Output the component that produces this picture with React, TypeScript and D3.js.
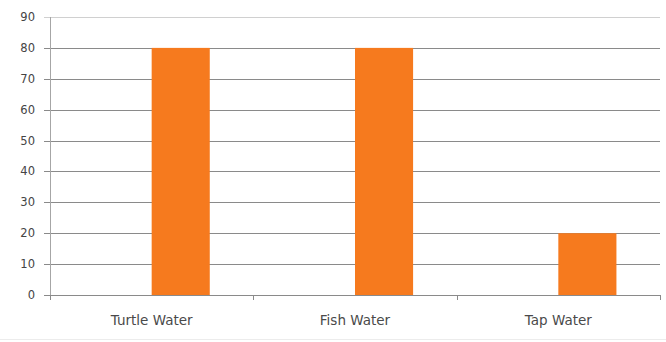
import React, { useEffect, useRef } from 'react';
import * as d3 from 'd3';

// chart data
const categories = ['Turtle Water', 'Fish Water', 'Tap Water'];
const seriesNames = ['Blank', 'Water'];
const blankValues = [0, 0, 0];
const waterValues = [80, 80, 20];
const yTicks = [0, 10, 20, 30, 40, 50, 60, 70, 80, 90];

const W = 666;
const H = 342;

export default function App() {
  const ref = useRef<SVGSVGElement>(null);

  useEffect(() => {
    const svg = d3.select(ref.current);
    svg.selectAll('*').remove();

    const left = 50, right = 660, top = 17, bottom = 295;

    const x = d3.scaleBand<string>().domain(categories).range([left, right]);
    // Excel-style clustering: gap 150% of bar width, two series
    const barW = x.bandwidth() / 3.5;
    const inner = d3.scaleBand<string>().domain(seriesNames)
      .range([x.bandwidth() / 2 - barW, x.bandwidth() / 2 + barW]);

    const y = d3.scaleLinear().domain([0, 90]).range([bottom, top]);

    svg.append('rect').attr('width', W).attr('height', H).attr('fill', '#fff');

    // grid lines
    svg.append('g')
      .selectAll('line')
      .data(yTicks)
      .enter()
      .append('line')
        .attr('x1', left - 6)
        .attr('x2', right)
        .attr('y1', d => Math.round(y(d)) + 0.5)
        .attr('y2', d => Math.round(y(d)) + 0.5)
        .attr('stroke', d => (d === 90 ? '#d0d0d0' : '#8a8a8a'))
        .attr('stroke-width', 1);

    // y axis line
    svg.append('line')
      .attr('x1', left + 0.5).attr('x2', left + 0.5)
      .attr('y1', top).attr('y2', bottom)
      .attr('stroke', '#a6a6a6');

    // y labels
    svg.append('g')
      .selectAll('text')
      .data(yTicks)
      .enter()
      .append('text')
        .attr('x', 35)
        .attr('y', d => y(d))
        .attr('dy', '0.35em')
        .attr('text-anchor', 'end')
        .attr('font-family', 'DejaVu Sans')
        .attr('font-size', 11.5)
        .attr('fill', '#444')
        .text(d => d);

    // x axis ticks between categories
    const bounds = [...categories.map(c => x(c) as number), right];
    svg.append('g')
      .selectAll('line')
      .data(bounds)
      .enter()
      .append('line')
        .attr('x1', d => Math.round(d) + 0.5)
        .attr('x2', d => Math.round(d) + 0.5)
        .attr('y1', bottom)
        .attr('y2', bottom + 5)
        .attr('stroke', '#8a8a8a');

    // bars
    const stacks = [blankValues, waterValues];
    stacks.forEach((vals, si) => {
      svg.append('g')
        .attr('fill', '#f67a1e')
        .selectAll('rect')
        .data(vals)
        .enter()
        .append('rect')
          .attr('x', (d, i) => (x(categories[i]) as number) + (inner(seriesNames[si]) as number))
          .attr('y', d => y(d))
          .attr('width', inner.bandwidth())
          .attr('height', d => bottom - y(d));
    });

    // x labels
    svg.append('g')
      .selectAll('text')
      .data(categories)
      .enter()
      .append('text')
        .attr('x', d => (x(d) as number) + x.bandwidth() / 2)
        .attr('y', 325)
        .attr('text-anchor', 'middle')
        .attr('font-family', 'DejaVu Sans')
        .attr('font-size', 13.5)
        .attr('fill', '#4a4a4a')
        .text(d => d);

    // faint chart border at bottom
    svg.append('line')
      .attr('x1', 0).attr('x2', W)
      .attr('y1', 339.5).attr('y2', 339.5)
      .attr('stroke', '#ececec');
  }, []);

  return (
    <svg ref={ref} width={W} height={H}
      style={{ position: 'absolute', left: 0, top: 0 }} />
  );
}
